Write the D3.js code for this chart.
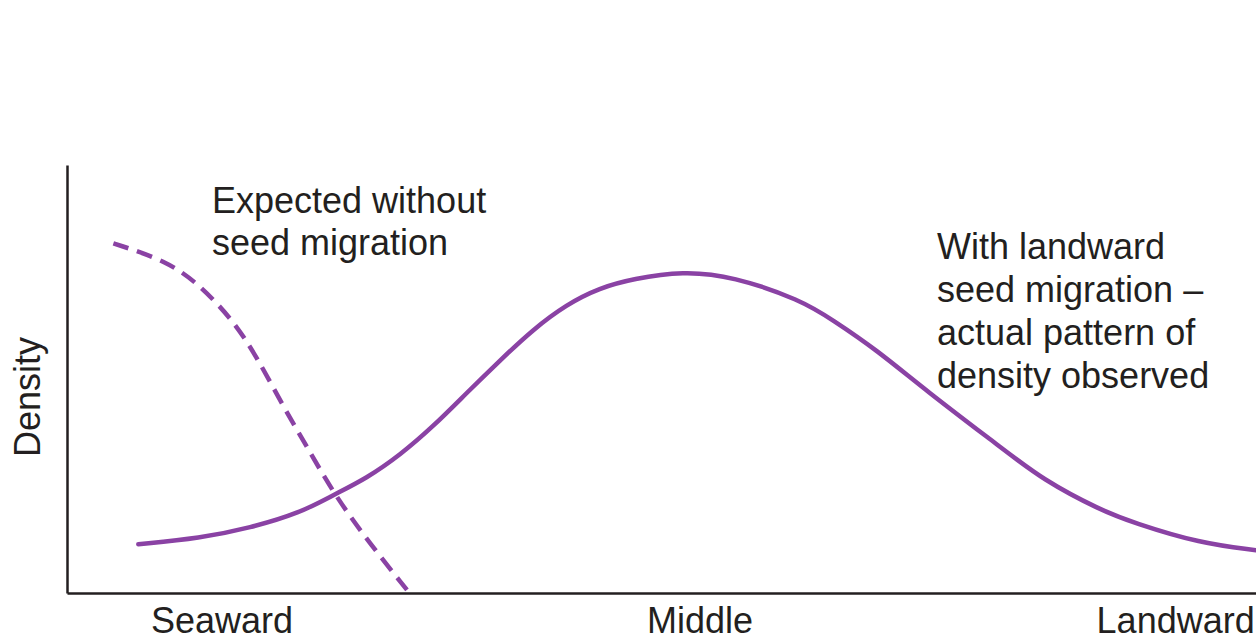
<!DOCTYPE html>
<html>
<head>
<meta charset="utf-8">
<script src="https://cdn.jsdelivr.net/npm/d3@7"></script>
<style>
  html, body { margin: 0; padding: 0; background: #fff; }
  svg { display: block; }
  text { font-family: "Liberation Sans", Arial, Helvetica, sans-serif; fill: #231f20; }
</style>
</head>
<body>
<svg id="chart" width="1256" height="640"></svg>
<script>
// ---- data (position along gradient 0-100, relative density 0-100) ----
const categories = ["Seaward", "Middle", "Landward"];
const categoryPositions = [13.0, 53.2, 93.2];

const observedX = [6.0, 11.2, 15.4, 19.6, 22.4, 25.2, 28.0, 30.8, 33.6, 36.4, 39.2, 42.0, 44.8, 47.6, 51.8, 56.0, 61.7, 64.4, 68.1, 72.2, 78.5, 82.1, 86.9, 89.7, 95.3, 100];
const observedY = [11.4, 12.8, 15.2, 18.7, 22.9, 26.8, 32.2, 38.9, 46.7, 54.3, 61.6, 67.4, 71.3, 73.4, 75.2, 74.0, 68.5, 63.8, 56.8, 47.4, 34.1, 26.4, 19.4, 16.4, 11.6, 10.0];

const expectedX = [3.9, 8.4, 11.2, 14.0, 16.0, 18.2, 20.2, 22.4, 25.2, 28.6];
const expectedY = [81.7, 77.6, 71.9, 63.6, 55.0, 43.5, 34.1, 23.4, 12.5, 0.7];

const yAxisLabel = "Density";
const expectedLabel = ["Expected without", "seed migration"];
const observedLabel = ["With landward", "seed migration \u2013", "actual pattern of", "density observed"];

// ---- layout ----
const svg = d3.select("#chart");
const purple = "#8a42a4";
const ink = "#231f20";

const x = d3.scaleLinear().domain([0, 100]).range([67, 1256]);
const y = d3.scaleLinear().domain([0, 100]).range([593, 165]);

const line = d3.line()
  .x(d => x(d[0]))
  .y(d => y(d[1]))
  .curve(d3.curveBasis);

const observed = observedX.map((v, i) => [v, observedY[i]]);
const expected = expectedX.map((v, i) => [v, expectedY[i]]);

// curves
svg.append("path")
  .attr("d", line(observed))
  .attr("fill", "none")
  .attr("stroke", purple)
  .attr("stroke-width", 4.5)
  .attr("stroke-linecap", "round");

svg.append("path")
  .attr("d", line(expected))
  .attr("fill", "none")
  .attr("stroke", purple)
  .attr("stroke-width", 4.5)
  .attr("stroke-dasharray", "16 9");

// axes
const xAxis = d3.axisBottom(x)
  .tickValues(categoryPositions)
  .tickFormat((d, i) => categories[i])
  .tickSize(0)
  .tickSizeOuter(0)
  .tickPadding(14);

const gx = svg.append("g")
  .attr("transform", `translate(0,${y(0)})`)
  .call(xAxis);
gx.select(".domain").attr("stroke", ink).attr("stroke-width", 2.5);
gx.selectAll(".tick text")
  .attr("font-size", 36)
  .attr("font-family", '"Liberation Sans", Arial, sans-serif')
  .attr("fill", ink)
  .attr("dy", "0.71em");

const yAxis = d3.axisLeft(y).tickValues([]).tickSizeOuter(0);
const gy = svg.append("g")
  .attr("transform", `translate(${x(0)},0)`)
  .call(yAxis);
gy.select(".domain").attr("stroke", ink).attr("stroke-width", 2.5);

svg.append("text")
  .attr("transform", `translate(40,${(y(0) + y(100)) / 2 + 18}) rotate(-90)`)
  .attr("text-anchor", "middle")
  .attr("font-size", 36)
  .text(yAxisLabel);

// annotations
const t1 = svg.append("text")
  .attr("x", 212)
  .attr("y", 213)
  .attr("font-size", 36);
expectedLabel.forEach((s, i) => {
  t1.append("tspan").attr("x", 212).attr("dy", i === 0 ? 0 : 42).text(s);
});

const t2 = svg.append("text")
  .attr("x", 937)
  .attr("y", 259)
  .attr("font-size", 36);
observedLabel.forEach((s, i) => {
  t2.append("tspan").attr("x", 937).attr("dy", i === 0 ? 0 : 43).text(s);
});
</script>
</body>
</html>
